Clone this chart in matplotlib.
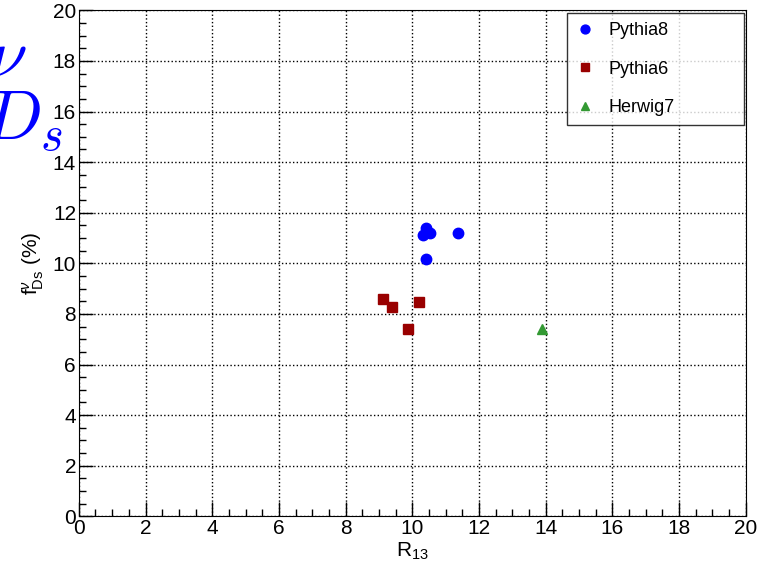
import matplotlib
matplotlib.use("Agg")
import matplotlib.pyplot as plt
from matplotlib.ticker import MultipleLocator

plt.rcParams['font.family'] = ['Liberation Sans', 'DejaVu Sans']
plt.rcParams['mathtext.fontset'] = 'custom'
plt.rcParams['mathtext.rm'] = 'Liberation Sans'
plt.rcParams['mathtext.it'] = 'Liberation Sans:italic'

# valeurs
pythia8_r13 = [10.40, 10.31, 10.53, 11.36, 10.42]
pythia8_f = [11.38, 11.11, 11.20, 11.20, 10.17]

pythia6_r13 = [9.13, 9.38, 10.21, 9.86]
pythia6_f = [8.59, 8.29, 8.46, 7.39]

herwig7_r13 = [13.90]
herwig7_f = [7.40]

fig = plt.figure(figsize=(7.69, 5.70), dpi=100)
ax = fig.add_axes([0.1025, 0.0942, 0.8673, 0.8877])

ax.plot(pythia8_r13, pythia8_f, 'o', color='#0000ff', markersize=7.5, label='Pythia8')
ax.plot(pythia6_r13, pythia6_f, 's', color='#990000', markersize=7, label='Pythia6')
ax.plot(herwig7_r13, herwig7_f, '^', color='#339933', markersize=7, label='Herwig7')

ax.set_xlim(0, 20)
ax.set_ylim(0, 20)
ax.xaxis.set_major_locator(MultipleLocator(2))
ax.xaxis.set_minor_locator(MultipleLocator(0.5))
ax.yaxis.set_major_locator(MultipleLocator(2))
ax.yaxis.set_minor_locator(MultipleLocator(0.5))
ax.tick_params(which='both', direction='in', top=False, right=False, labelsize=15, pad=2)
ax.tick_params(which='major', length=10, width=1)
ax.tick_params(which='minor', length=5, width=1)
ax.grid(True, which='major', linestyle=':', color='black', linewidth=1)

ax.set_xlabel(r'R$_{13}$', fontsize=15, loc='center', labelpad=2)
ax.set_ylabel(r'f$^{\nu}_{\mathrm{Ds}}$ (%)', fontsize=15, labelpad=5)

# texte bleu coupe sur le bord gauche
fig.text(-0.016, 0.897, r'$\nu$', color='#0000ff', fontsize=50, ha='left', va='center',
         math_fontfamily='cm')
fig.text(-0.022, 0.785, r'$D_s$', color='#0000ff', fontsize=50, ha='left', va='center',
         math_fontfamily='cm')

leg = ax.legend(loc='upper left', bbox_to_anchor=(0.7315, 0.781, 0.2655, 0.2137),
                mode='expand', borderaxespad=0, fontsize=13, frameon=True, fancybox=False,
                edgecolor='black', labelspacing=1.2, handlelength=1.0, handletextpad=0.8,
                borderpad=0.5, numpoints=1, markerscale=0.85)
leg.get_frame().set_linewidth(1)

fig.savefig('out.png', dpi=100)
